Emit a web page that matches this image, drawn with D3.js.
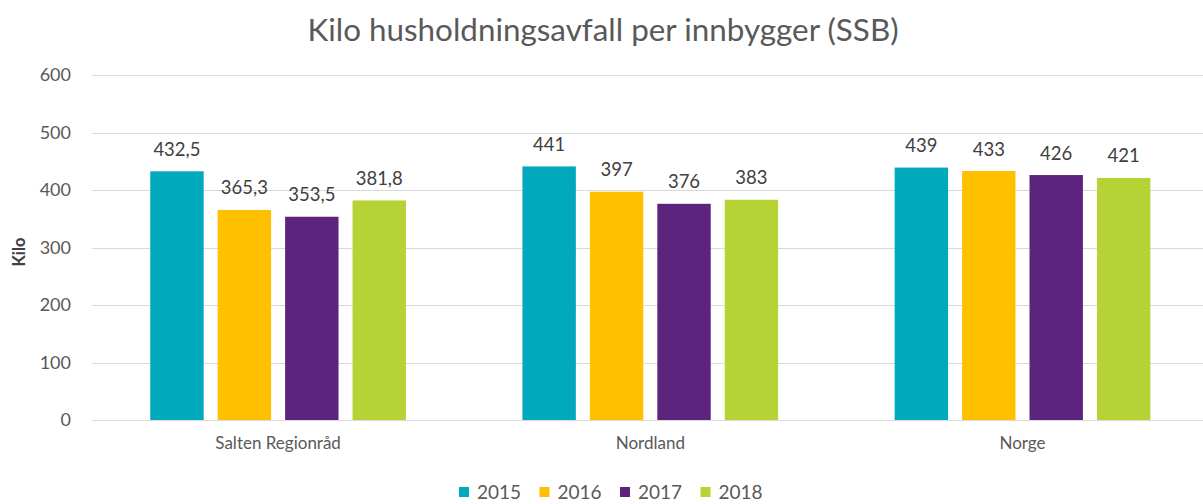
<!DOCTYPE html>
<html>
<head>
<meta charset="utf-8">
<script src="https://cdn.jsdelivr.net/npm/d3@7"></script>
<style>
  html, body { margin: 0; padding: 0; background: #fff; }
  svg { display: block; }
  text { font-family: Lato, "Open Sans", sans-serif; }
</style>
</head>
<body>
<div id="chart"></div>
<script>
// Household waste per inhabitant (kg), by region and year
const categories = ["Salten Regionråd", "Nordland", "Norge"];
const years = ["2015", "2016", "2017", "2018"];
const values2015 = [432.5, 441, 439];
const values2016 = [365.3, 397, 433];
const values2017 = [353.5, 376, 426];
const values2018 = [381.8, 383, 421];
const yTicks = [0, 100, 200, 300, 400, 500, 600];
const colors = ["#00A9BC", "#FFC000", "#5C247C", "#B5D334"];

const seriesValues = [values2015, values2016, values2017, values2018];
const rows = categories.map((c, i) => ({
  category: c,
  bars: years.map((y, j) => ({ year: y, value: seriesValues[j][i] }))
}));

const W = 1203, H = 504;
const plotLeft = 92, plotRight = 1208.6, plotTop = 75, plotBottom = 420;

const svg = d3.select("#chart").append("svg")
  .attr("width", W).attr("height", H);

const x0 = d3.scaleBand().domain(categories).range([plotLeft, plotRight]).padding(0);
const groupW = 255.7;
const x1 = d3.scaleBand().domain(years)
  .range([(x0.bandwidth() - groupW) / 2, (x0.bandwidth() + groupW) / 2])
  .paddingInner(0.208).paddingOuter(0);
const y = d3.scaleLinear().domain([0, 600]).range([plotBottom, plotTop]);
const color = d3.scaleOrdinal().domain(years).range(colors);

const fmt = v => String(v).replace(".", ",");

// Title
svg.append("text")
  .attr("x", 603).attr("y", 41)
  .attr("text-anchor", "middle")
  .attr("fill", "#595959")
  .style("font-size", "31.4px")
  .text("Kilo husholdningsavfall per innbygger (SSB)");

// Gridlines
svg.append("g")
  .selectAll("line").data(yTicks).join("line")
  .attr("x1", plotLeft).attr("x2", plotRight)
  .attr("y1", d => Math.round(y(d)) + 0.5).attr("y2", d => Math.round(y(d)) + 0.5)
  .attr("stroke", "#D9D9D9").attr("stroke-width", 1);

// Y axis labels
const yAxis = d3.axisLeft(y).tickValues(yTicks).tickSize(0).tickPadding(0);
const gy = svg.append("g").attr("transform", `translate(${plotLeft - 21},0)`).call(yAxis);
gy.select(".domain").remove();
gy.selectAll("text")
  .attr("fill", "#595959")
  .style("font-size", "18px")
  .style("font-family", "Lato, 'Open Sans', sans-serif");

// Y axis title
svg.append("text")
  .attr("transform", `translate(25,252) rotate(-90)`)
  .attr("text-anchor", "middle")
  .attr("fill", "#404040")
  .style("font-size", "16.5px")
  .style("font-weight", "bold")
  .text("Kilo");

// Bars
const groups = svg.append("g").selectAll("g").data(rows).join("g")
  .attr("transform", d => `translate(${x0(d.category)},0)`);

groups.selectAll("rect").data(d => d.bars).join("rect")
  .attr("x", d => x1(d.year))
  .attr("y", d => y(d.value))
  .attr("width", x1.bandwidth())
  .attr("height", d => y(0) - y(d.value))
  .attr("fill", d => color(d.year));

groups.selectAll("text.val").data(d => d.bars).join("text")
  .attr("class", "val")
  .attr("x", d => x1(d.year) + x1.bandwidth() / 2)
  .attr("y", d => y(d.value) - 15.5)
  .attr("text-anchor", "middle")
  .attr("fill", "#404040")
  .style("font-size", "18.5px")
  .text(d => fmt(d.value));

// Category axis
const xAxis = d3.axisBottom(x0).tickSize(0).tickPadding(0);
const gx = svg.append("g").attr("transform", `translate(0,${plotBottom + 17})`).call(xAxis);
gx.select(".domain").remove();
gx.selectAll("text")
  .attr("fill", "#595959")
  .style("font-size", "17px")
  .style("font-family", "Lato, 'Open Sans', sans-serif");

// Legend
const legendStep = 80.5;
const legendX = 459;
const lg = svg.append("g").selectAll("g").data(years).join("g")
  .attr("transform", (d, i) => `translate(${legendX + i * legendStep},487)`);
lg.append("rect").attr("width", 10).attr("height", 10).attr("fill", d => color(d));
lg.append("text")
  .attr("x", 18).attr("y", 11.5)
  .attr("fill", "#595959")
  .style("font-size", "19px")
  .text(d => d);
</script>
</body>
</html>
